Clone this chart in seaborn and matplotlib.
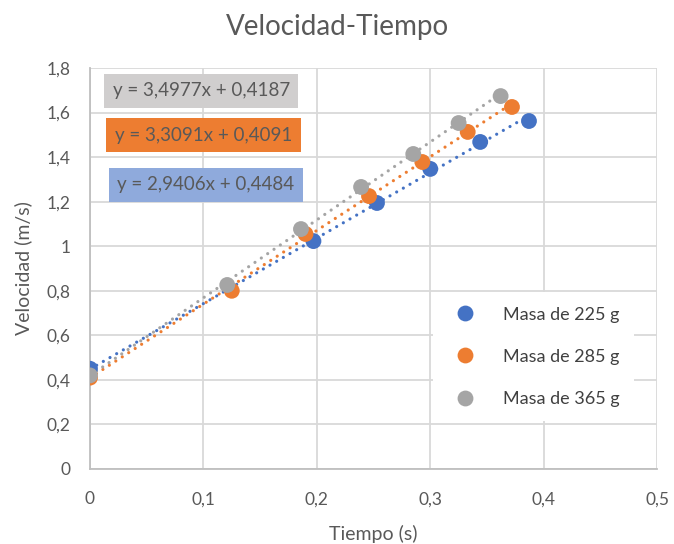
import matplotlib
matplotlib.use("Agg")
import matplotlib.pyplot as plt
import matplotlib.ticker as mticker
import numpy as np
import pandas as pd
import seaborn as sns

# Measured time (s) and velocity (m/s) for each mass
series_names = ["Masa de 225 g", "Masa de 285 g", "Masa de 365 g"]
t_225 = [0.0, 0.197, 0.253, 0.300, 0.344, 0.387]
v_225 = [0.45, 1.023, 1.194, 1.347, 1.468, 1.562]
t_285 = [0.0, 0.125, 0.190, 0.246, 0.293, 0.333, 0.372]
v_285 = [0.41, 0.80, 1.055, 1.225, 1.378, 1.513, 1.625]
t_365 = [0.0, 0.121, 0.186, 0.239, 0.285, 0.325, 0.362]
v_365 = [0.42, 0.826, 1.077, 1.266, 1.414, 1.553, 1.674]

# Linear trendline coefficients (slope, intercept)
slopes = [2.9406, 3.3091, 3.4977]
intercepts = [0.4484, 0.4091, 0.4187]

colors = ["#4472c4", "#ed7d31", "#a5a5a5"]
box_colors = ["#8faadc", "#ed7d31", "#d0cece"]

frames = []
for name, t, v in zip(series_names, [t_225, t_285, t_365], [v_225, v_285, v_365]):
    frames.append(pd.DataFrame({"Tiempo": t, "Velocidad": v, "Serie": name}))
df = pd.concat(frames, ignore_index=True)

sns.set_theme(style="whitegrid")
plt.rcParams["font.family"] = ["Lato", "DejaVu Sans"]

fig = plt.figure(figsize=(6.74, 5.44), dpi=100)
ax = fig.add_axes([0.1335, 0.1379, 0.8415, 0.7371])

def fmt(x, pos):
    s = f"{x:.1f}".replace(".", ",")
    if s.endswith(",0"):
        s = s[:-2]
    return s

# Dotted trendlines
for i, (t, m, b) in enumerate(zip([t_225, t_285, t_365], slopes, intercepts)):
    xs = np.array([0.0, max(t)])
    ax.plot(xs, m * xs + b, linestyle=(0, (0.01, 2.4)), linewidth=2.3,
            dash_capstyle="round", color=colors[i], zorder=2)

sns.scatterplot(data=df, x="Tiempo", y="Velocidad", hue="Serie",
                palette=colors, s=130, edgecolor="none", ax=ax, zorder=3)

ax.set_xlim(0, 0.5)
ax.set_ylim(0, 1.8)
ax.xaxis.set_major_locator(mticker.MultipleLocator(0.1))
ax.yaxis.set_major_locator(mticker.MultipleLocator(0.2))
ax.xaxis.set_major_formatter(mticker.FuncFormatter(fmt))
ax.yaxis.set_major_formatter(mticker.FuncFormatter(fmt))
ax.grid(True, color="#d9d9d9", linewidth=1.3)
ax.set_facecolor("white")
for side in ["top", "right"]:
    ax.spines[side].set_visible(False)
for side in ["left", "bottom"]:
    ax.spines[side].set_color("#bfbfbf")
    ax.spines[side].set_linewidth(1.3)
ax.tick_params(axis="both", colors="#595959", labelsize=12.5, length=0)
ax.tick_params(axis="x", pad=16)
ax.tick_params(axis="y", pad=14)

ax.set_xlabel("Tiempo (s)", fontsize=14, color="#595959", labelpad=13)
ax.set_ylabel("Velocidad (m/s)", fontsize=14, color="#595959", labelpad=10)
fig.suptitle("Velocidad-Tiempo", fontsize=20, color="#595959", y=0.975)

# Trendline equations
eq_pos = [(0.102, 1.275), (0.100, 1.499), (0.098, 1.697)]
for i in range(3):
    txt = f"y = {slopes[i]:.4f}x + {intercepts[i]:.4f}".replace(".", ",")
    ax.text(eq_pos[i][0], eq_pos[i][1], txt, ha="center", va="center",
            fontsize=13.5, color="#595959", zorder=4,
            bbox=dict(boxstyle="square,pad=0.45", facecolor=box_colors[i],
                      edgecolor="none"))

leg = ax.legend(loc="center left", bbox_to_anchor=(0.588, 0.28), frameon=True,
                fontsize=13, labelspacing=1.45, handletextpad=1.1,
                markerscale=1.0, borderpad=0.8)
leg.get_frame().set_facecolor("white")
leg.get_frame().set_edgecolor("none")
leg.get_frame().set_alpha(1.0)
for text in leg.get_texts():
    text.set_color("#404040")

fig.savefig("out.png", dpi=100)
